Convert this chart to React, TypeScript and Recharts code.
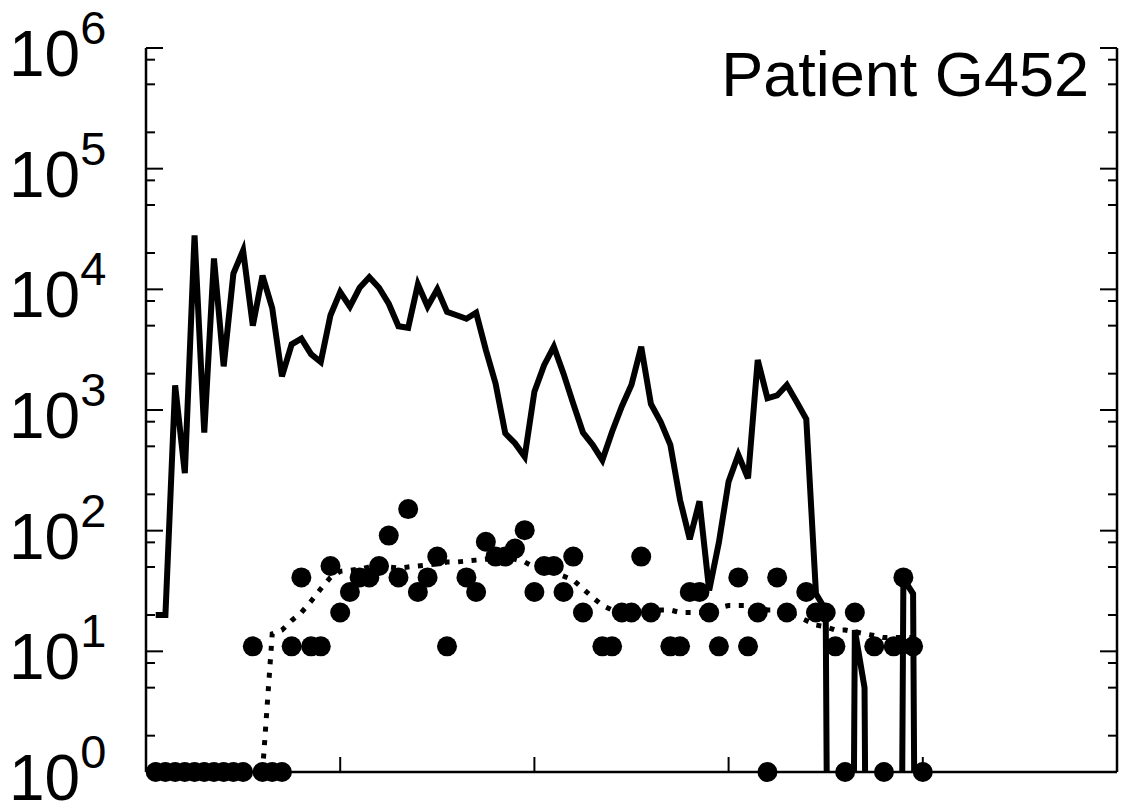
import { ComposedChart, Line, Scatter, XAxis, YAxis } from "recharts";

// one sample per step, steps 1..80
const loadValues = [
  20, 20, 1600, 300, 28000, 650, 18000, 2300, 13500, 21000,
  5000, 13000, 7000, 1900, 3500, 3900, 2900, 2500, 6100, 9500,
  7200, 10300, 12600, 10300, 7600, 4950, 4800, 11000, 7200, 10000,
  6500, 6100, 5700, 6400, 3150, 1660, 640, 530, 410, 1420,
  2350, 3350, 2000, 1130, 650, 515, 385, 660, 1070, 1620,
  3350, 1120, 800, 515, 180, 85, 175, 32, 80, 255,
  425, 272, 2600, 1250, 1320, 1610, 1170, 840, 30, 22,
  0, 0, 15, 5, 0, 0, 0, 40, 30, 0,
];

const countValues = [
  1, 1, 1, 1, 1, 1, 1, 1, 1, 1,
  11, 1, 1, 1, 11, 41, 11, 11, 51, 21,
  31, 41, 41, 51, 91, 41, 151, 31, 41, 61,
  11, null, 41, 31, 81, 61, 61, 71, 101, 31,
  51, 51, 31, 61, 21, null, 11, 11, 21, 21,
  61, 21, null, 11, 11, 31, 31, 21, 11, null,
  41, 11, 21, 1, 41, 21, null, 31, 21, 21,
  11, 1, 21, null, 11, 1, 11, 41, 11, 1,
];

const smoothValues = [
  null, null, null, null, null, null, null, null, null, null,
  null, 1, 14, 15, 18, 21, 26, 33, 41, 46,
  47, 48, 50, 50, 50, 49, 50, 51, 52, 53,
  55, 55, 56, 57, 58, 58, 59, 58, 55, 50,
  47, 45, 42, 39, 33, 28, 24, 22, 21, 21,
  21, 21, 22, 22, 21, 21, 21, 22, 23, 24,
  24, 24, 23, 22, 22, 21, 19.5, 18, 16.5, 16,
  15, 15, 14.5, 14, 13.5, 13, 13, 13, 13, null,
];

const yTicks = [
  1, 2, 5, 8, 10, 20, 50, 80, 100, 200, 500, 800, 1000, 2000, 5000, 8000,
  10000, 20000, 50000, 80000, 100000, 200000, 500000, 800000, 1000000,
];
const xTicks = [20, 40, 60, 80];
const title = "Patient G452";

// zero can't sit on a log axis; push it far below the frame so it gets clipped
const FLOOR = 1e-12;

const rows = loadValues.map((v, i) => ({
  step: i + 1,
  load: v > 0 ? v : FLOOR,
  smooth: smoothValues[i],
}));

const dots = countValues
  .map((v, i) => ({ step: i + 1, count: v }))
  .filter((d) => d.count !== null);

const FONT = '"Liberation Sans", Arial, Helvetica, sans-serif';
const frame = { stroke: "#000", strokeWidth: 2.5 };

const isMajor = (v: number) => {
  const l = Math.log10(v);
  return Math.abs(l - Math.round(l)) < 1e-6;
};

function LeftTick(props: any) {
  const { x, y, payload } = props;
  const v = payload.value;
  const major = isMajor(v);
  return (
    <g>
      <line x1={x} x2={x + (major ? 17 : 9)} y1={y} y2={y} stroke="#000" strokeWidth={2} />
      {major && (
        <text x={x - 137} y={y + 28} fontFamily={FONT} fontSize={64} fill="#000">
          10
          <tspan dy={-32} fontSize={47}>
            {Math.round(Math.log10(v))}
          </tspan>
        </text>
      )}
    </g>
  );
}

function RightTick(props: any) {
  const { x, y, payload } = props;
  const major = isMajor(payload.value);
  return <line x1={x} x2={x - (major ? 17 : 9)} y1={y} y2={y} stroke="#000" strokeWidth={2} />;
}

function BottomTick(props: any) {
  const { x, y } = props;
  return <line x1={x} x2={x} y1={y} y2={y - 15} stroke="#000" strokeWidth={2} />;
}

export default function App() {
  return (
    <div style={{ position: "absolute", left: 0, top: 0, background: "#fff" }}>
      <ComposedChart
        width={1123}
        height={803}
        data={rows}
        margin={{ top: 48, right: 0, bottom: 0, left: 0 }}
      >
        <XAxis
          dataKey="step"
          type="number"
          domain={[0, 100]}
          ticks={xTicks}
          interval={0}
          height={31}
          axisLine={frame}
          tickLine={false}
          tickSize={0}
          tickMargin={0}
          tick={BottomTick}
        />
        <XAxis
          xAxisId="top"
          orientation="top"
          type="number"
          domain={[0, 100]}
          height={0}
          axisLine={frame}
          tickLine={false}
          tick={false}
        />
        <YAxis
          yAxisId="left"
          scale="log"
          domain={[1, 1e6]}
          allowDataOverflow
          ticks={yTicks}
          interval={0}
          width={146}
          axisLine={frame}
          tickLine={false}
          tickSize={0}
          tickMargin={0}
          tick={LeftTick}
        />
        <YAxis
          yAxisId="right"
          orientation="right"
          scale="log"
          domain={[1, 1e6]}
          ticks={yTicks}
          interval={0}
          width={6}
          axisLine={frame}
          tickLine={false}
          tickSize={0}
          tickMargin={0}
          tick={RightTick}
        />
        <Line
          yAxisId="right"
          type="linear"
          dataKey="smooth"
          stroke="#000"
          strokeWidth={5}
          strokeDasharray="5 8.5"
          dot={false}
          activeDot={false}
          isAnimationActive={false}
        />
        <Line
          yAxisId="left"
          type="linear"
          dataKey="load"
          stroke="#000"
          strokeWidth={6}
          dot={false}
          activeDot={false}
          isAnimationActive={false}
        />
        <Scatter
          yAxisId="right"
          data={dots}
          dataKey="count"
          fill="#000"
          isAnimationActive={false}
          shape={(p: any) => <circle cx={p.cx} cy={p.cy} r={10} fill="#000" />}
        />
        <text x={1089} y={96} textAnchor="end" fontFamily={FONT} fontSize={63} fill="#000">
          {title}
        </text>
      </ComposedChart>
    </div>
  );
}
